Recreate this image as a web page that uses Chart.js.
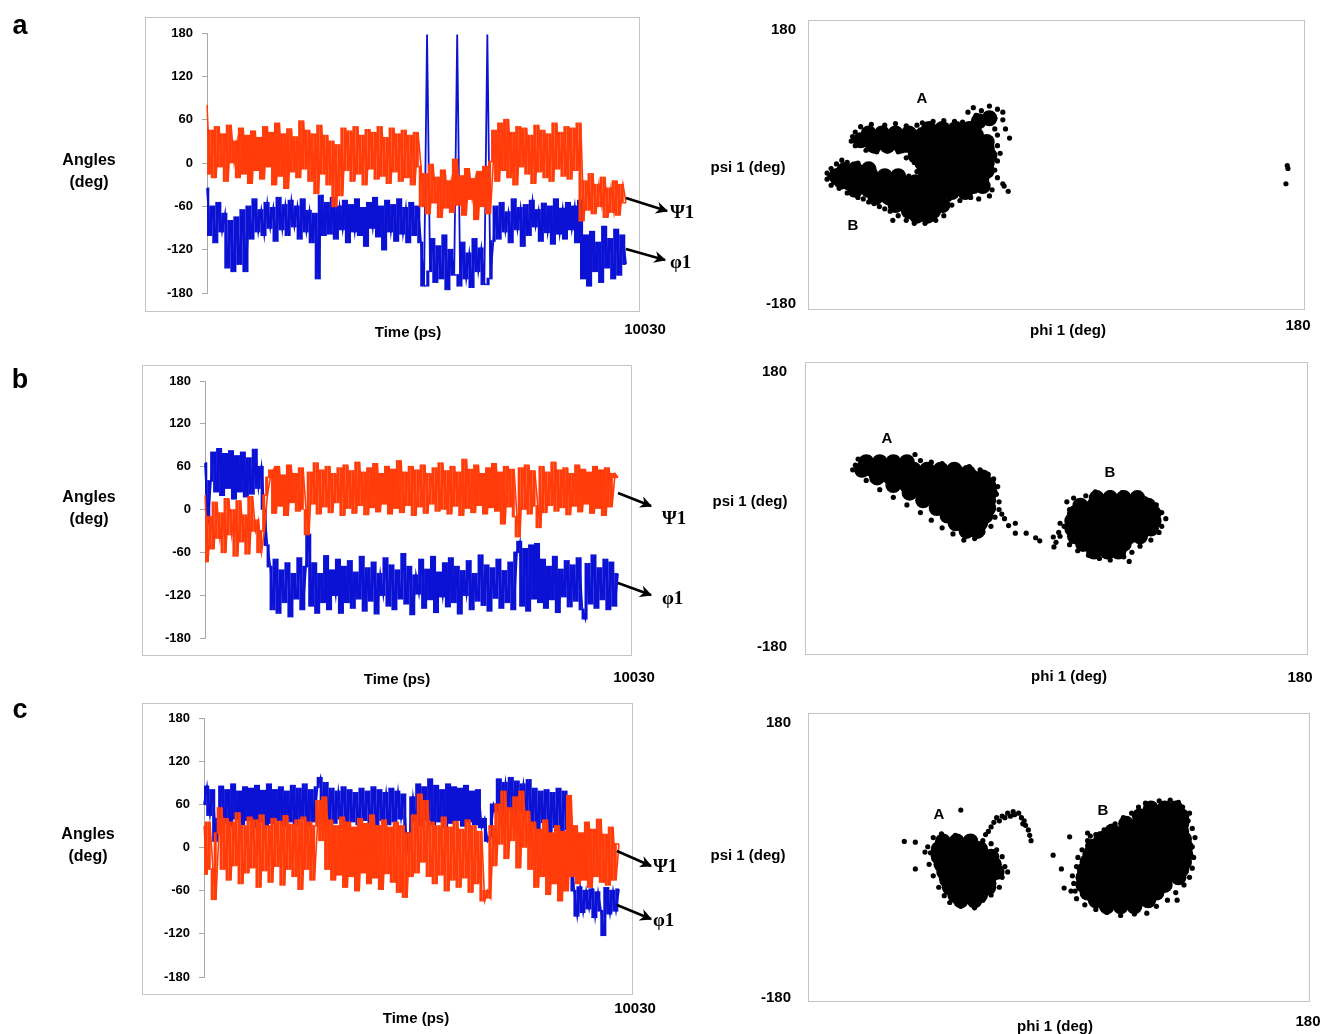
<!DOCTYPE html>
<html>
<head>
<meta charset="utf-8">
<script src="https://cdn.jsdelivr.net/npm/chart.js@4.4.1/dist/chart.umd.min.js"></script>
<style>
  body { margin: 0; background: #fff; width: 1329px; height: 1034px; position: relative; overflow: hidden;
         font-family: "Liberation Sans", Arial, sans-serif; font-weight: bold; color: #000; }
  .box { position: absolute; box-sizing: border-box; border: 1.5px solid #c4c4c4; }
  canvas { position: absolute; }
  .t { position: absolute; transform: translate(-50%, -50%); white-space: nowrap; }
  .l { position: absolute; transform: translateY(-50%); white-space: nowrap; font-family: "Liberation Serif", serif; font-size: 19px; }
  .letter { font-size: 27px; }
  .ang { font-size: 16px; line-height: 22px; text-align: center; }
  .lab { font-size: 15px; }
</style>
</head>
<body>

<!-- frames -->
<div class="box" style="left:145px;top:17px;width:495px;height:295px"></div>
<div class="box" style="left:142px;top:365px;width:490px;height:291px"></div>
<div class="box" style="left:142px;top:703px;width:491px;height:292px"></div>
<div class="box" style="left:808px;top:20px;width:497px;height:290px"></div>
<div class="box" style="left:805px;top:362px;width:503px;height:293px"></div>
<div class="box" style="left:808px;top:713px;width:502px;height:289px"></div>

<canvas id="lineA" width="495" height="305" style="left:145px;top:7px"></canvas>
<canvas id="lineB" width="490" height="301" style="left:142px;top:355px"></canvas>
<canvas id="lineC" width="491" height="302" style="left:142px;top:693px"></canvas>
<canvas id="ramA" width="589" height="345" style="left:740px;top:0px"></canvas>
<canvas id="ramB" width="589" height="353" style="left:740px;top:342px"></canvas>
<canvas id="ramC" width="589" height="341" style="left:740px;top:693px"></canvas>

<!-- arrows -->
<svg width="1329" height="1034" style="position:absolute;left:0;top:0">
  <defs>
    <marker id="ah" viewBox="0 0 10 10" refX="9" refY="5" markerWidth="12" markerHeight="12" markerUnits="userSpaceOnUse" orient="auto">
      <path d="M0,0 L10,5 L0,10 L3,5 z" fill="#000"/>
    </marker>
  </defs>
  <g stroke="#000" stroke-width="2.5" marker-end="url(#ah)">
    <line x1="626" y1="198" x2="667" y2="211"/>
    <line x1="626" y1="249" x2="665" y2="260"/>
    <line x1="618" y1="493" x2="651" y2="506"/>
    <line x1="618" y1="583" x2="651" y2="595"/>
    <line x1="617" y1="851" x2="651" y2="866"/>
    <line x1="617" y1="905" x2="651" y2="919"/>
  </g>
</svg>

<div class="t letter" style="left:20px;top:25px">a</div>
<div class="t letter" style="left:20px;top:379px">b</div>
<div class="t letter" style="left:20px;top:709px">c</div>

<div class="t ang" style="left:89px;top:171px">Angles<br>(deg)</div>
<div class="t ang" style="left:89px;top:508px">Angles<br>(deg)</div>
<div class="t ang" style="left:88px;top:845px">Angles<br>(deg)</div>

<div class="t lab" style="left:408px;top:331px">Time (ps)</div>
<div class="t lab" style="left:397px;top:678px">Time (ps)</div>
<div class="t lab" style="left:416px;top:1017px">Time (ps)</div>
<div class="t lab" style="left:645px;top:328px">10030</div>
<div class="t lab" style="left:634px;top:676px">10030</div>
<div class="t lab" style="left:635px;top:1007px">10030</div>

<div class="l" style="left:670px;top:212px">Ψ1</div>
<div class="l" style="left:670px;top:262px">φ1</div>
<div class="l" style="left:662px;top:518px">Ψ1</div>
<div class="l" style="left:662px;top:598px">φ1</div>
<div class="l" style="left:653px;top:866px">Ψ1</div>
<div class="l" style="left:653px;top:920px">φ1</div>

<div class="t lab" style="left:748px;top:166px">psi 1 (deg)</div>
<div class="t lab" style="left:750px;top:500px">psi 1 (deg)</div>
<div class="t lab" style="left:748px;top:854px">psi 1 (deg)</div>
<div class="t lab" style="left:1068px;top:329px">phi 1 (deg)</div>
<div class="t lab" style="left:1069px;top:675px">phi 1 (deg)</div>
<div class="t lab" style="left:1055px;top:1025px">phi 1 (deg)</div>

<div class="t lab" style="left:922px;top:97px">A</div>
<div class="t lab" style="left:853px;top:224px">B</div>
<div class="t lab" style="left:887px;top:437px">A</div>
<div class="t lab" style="left:1110px;top:471px">B</div>
<div class="t lab" style="left:939px;top:813px">A</div>
<div class="t lab" style="left:1103px;top:809px">B</div>

<script>
// Time axis runs 0 .. 10030 ps, 140 samples per trace
const T_MAX = 10030;
const ORANGE = '#ff3c0a';
const BLUE = '#0c12d4';
const FONT = '"Liberation Sans", Arial, sans-serif';

// panel a: psi1 and phi1 traces (deg)
const psiA = [
  80, -15, 45, -20, 50, -5, 40, -25, 52, 0,
  30, -20, 48, -15, 38, -28, 44, -10, 35, -22,
  50, -5, 42, -30, 55, -18, 40, -35, 47, -12,
  36, -20, 58, -8, 45, -25, 40, -42, 52, -15,
  38, -30, 30, -60, 25, -45, 48, -10, 44, -25,
  50, -15, 38, -30, 46, -8, 42, -22, 50, -18,
  35, -28, 48, -12, 40, -25, 45, -20, 38, -30, 42,
  -5, -60, -15, -70, -2, -55, -20, -75, -10, -62, -25, -68, 5, -58, -18, -72, -8, -50, -22, -78, -12, -60, -5, -70, 2,
  45, -25, 55, -10, 60, -20, 42, -30, 50, -5, 48, -15, 38, -28, 52, -12, 45, -20, 40, -25, 55, -8, 42, -18, 50, -22, 48, -10, 55,
  -80, -25, -65, -15, -70, -30, -60, -20, -75, -35, -68, -25, -72, -30, -55
];
const phiA = [
  -35, -100, -60, -110, -55, -95, -70, -145, -80, -150,
  -75, -140, -65, -150, -60, -105, -50, -95, -65, -100,
  -55, -90, -62, -108, -48, -92, -58, -100, -52, -88,
  -60, -105, -50, -95, -66, -110, -70, -160, -45, -100,
  -55, -98, -48, -105, -60, -92, -52, -110, -58, -95,
  -50, -100, -62, -115, -55, -90, -48, -102, -60, -120,
  -52, -95, -58, -108, -50, -98, -62, -110, -55, -100, -60,
  -110, -170, 178, -150, -105, -165, -115, -160, -100, -175, -120, -155, 178, -170, -110, -160, -125, -172, -105, -150, -118, -168, 178, -160, -108,
  -60, -105, -55, -95, -68, -110, -50, -92, -62, -115, -58, -100, -52, -88, -65, -108, -56, -96, -60, -112, -50, -98, -63, -105, -55, -92, -60, -110, -52,
  -160, -100, -170, -95, -150, -110, -165, -88, -145, -105, -160, -92, -155, -100, -140
];

// panel b
const psiB = [
  20, -73, -10, -55, 10, -40, -5, -60, 15, -35, 0, -65, 12, -45, -8, -62, 18, -30, -15, -60,
  -30, 20, 45,
  55, -5, 60, 5, 48, -8, 62, 10, 50, -2,
  58, 0, -35, 52, 8, 65, -6, 55, 4, 60,
  -4, 50, 10, 58, -8, 62, 2, 54, -5, 66,
  6, 52, -7, 58, 3, 64, -3, 50, 8, 60,
  -6, 56, 2, 68, -4, 52, 6, 60, -8, 55,
  4, 62, -5, 50, 8, 58, -2, 65, 0, 54,
  -6, 60, 5, 52, -8, 70, 2, 56, -4, 62,
  6, 50, -6, 58, 3, 64, -2, 52, -20, 60,
  4, 56, -10, -38, 58, 0, 62, -6, 54, 5,
  -25, 60, -4, 52, 6, 66, -2, 55, 3, 58,
  -7, 50, 5, 62, -3, 56, 8, 52, -5, 60,
  2, 55, -8, 58, 4, 50, 45
];
const phiB = [
  65, -20, 40, 80, 25, 85, 20, 78, 30, 82, 15, 75, 25, 80, 18, 72, 22, 84, 30, 60,
  0, -50, -80,
  -140, -70, -145, -85, -130, -75, -150, -90, -125, -68,
  -140, -80, -35, -135, -75, -145, -90, -130, -65, -140,
  -85, -120, -70, -145, -80, -130, -72, -138, -88, -125,
  -66, -142, -82, -128, -74, -146, -90, -120, -68, -135,
  -78, -140, -85, -125, -62, -132, -80, -147, -92, -118,
  -70, -138, -84, -126, -66, -144, -88, -122, -75, -136,
  -68, -130, -80, -146, -86, -120, -72, -140, -90, -128,
  -64, -134, -78, -142, -82, -124, -70, -138, -86, -130,
  -74, -140, -60, -45, -135, -55, -142, -50, -125, -48,
  -130, -70, -138, -80, -126, -66, -144, -84, -122, -72,
  -136, -78, -128, -68, -140, -153, -76, -132, -64, -138,
  -82, -126, -70, -140, -74, -135, -90
];

// panel c
const psiC = [
  30, -37, 35, -30, -72, 20,
  55, -30, 40, -45, 35, -25, 48, -50, 30, -35, 42, -28, 38, -55, 45, -32, 30, -48, 40, -26, 36, -52, 44, -30, 32, -40, 38, -58, 42, -30, 35, -45, 30,
  65, 10, 70,
  -30, 38, -45, 30, -38, 42, -55, 35, -40, 28, -60, 40, -35, 33, -50, 45, -42, 30, -58, 38, -36, 28, -48, 35, -62, 30,
  -69, 20, -40,
  45, -35, 74, -20, 65, -40, 35, -50, 30, -38, 42, -60, 28, -45, 36, -55, 25, -42, 38, -62, 30, -50, 22,
  -74, -60, -70, 30,
  -25, 60, 5, 78, -15, 55, 10, 70, -28, 78, 0, 50,
  -30, 35, -55, 25, -40, 38, -65, 20, -50, 30, -74, 22, -60,
  72, -40,
  30, -50, 20, -45, 35, -55, 25, -40, 39, -48, 18, -52, 28, -45, 5
];
const phiC = [
  60, 85, 45, 80, 9, 40,
  85, 35, 80, 30, 88, 40, 78, 32, 84, 38, 82, 28, 86, 36, 79, 30, 88, 34, 80, 38, 84, 30, 78, 36, 86, 32, 82, 40, 88, 30, 80, 36, 84,
  97, 40, 90,
  38, 82, 34, 78, 40, 84, 30, 80, 36, 76, 32, 82, 38, 78, 34, 84, 30, 80, 38, 76, 32, 82, 36, 78, 40, 74,
  -5, 20, 70,
  36, 88, 30, 84, 38, 95, 32, 86, 36, 80, 28, 88, 34, 84, 38, 82, 30, 86, 36, 78, 32, 80, 28,
  40, 9, 15, 60,
  50, 95, 45, 90, 55, 97, 42, 92, 48, 88, 52, 94,
  30, 82, 22, 78, 35, 80, 18, 76, 28, 82, 20, 78, 25,
  10, -60,
  -95, -55, -90, -60, -85, -58, -97, -62, -88, -122, -56, -92, -60, -88, -58
];

// Ramachandran scatter points [phi, psi]; "core" = dense interior, "edge" = sparse dots
const ramACore = [
  [-140,44],[-130,44],[-120,44],[-110,44],
  [-146,35],[-140,35],[-130,35],[-120,35],[-110,35],[-102,38],
  [-136,28],[-126,28],[-116,28],[-108,28],
  [-95,50],[-85,50],[-75,50],[-65,50],
  [-100,42],[-90,42],[-80,42],[-70,42],[-60,42],
  [-98,33],[-88,33],[-78,33],[-68,33],[-58,33],[-52,33],
  [-100,24],[-90,24],[-80,24],[-70,24],[-60,24],[-52,24],
  [-105,15],[-95,15],[-85,15],[-75,15],[-65,15],[-55,15],[-50,15],
  [-100,5],[-90,5],[-80,5],[-70,5],[-60,5],[-52,5],
  [-98,-5],[-88,-5],[-78,-5],[-68,-5],[-58,-5],[-52,-5],
  [-95,-15],[-85,-15],[-75,-15],[-65,-15],[-56,-15],
  [-92,-25],[-82,-25],[-72,-25],[-62,-25],[-55,-25],
  [-88,-33],[-78,-33],[-68,-33],
  [-58,60],[-50,64],
  [-158,-4],[-150,-3],[-140,-3],
  [-164,-12],[-158,-12],[-148,-12],[-138,-12],[-128,-12],[-118,-12],
  [-160,-19],[-155,-20],[-145,-20],[-135,-20],[-125,-20],[-115,-20],[-105,-20],
  [-150,-30],[-140,-30],[-130,-30],[-120,-30],[-110,-30],[-100,-30],
  [-135,-40],[-125,-40],[-115,-40],[-105,-40],[-95,-40],[-88,-40],
  [-120,-50],[-110,-50],[-100,-50],[-92,-50],[-85,-50],
  [-110,-58],[-100,-58],[-92,-58],
  [-104,-64],[-96,-64]
];
const ramAEdge = [
  [-152,40],[-153,34],[-150,46],[-146,53],[-138,56],[-128,55],[-120,57],[-112,54],[-104,55],
  [-150,28],[-142,22],[-134,20],[-126,21],[-118,20],[-112,22],
  [-100,58],[-92,60],[-84,61],[-76,60],[-70,59],
  [-66,72],[-62,78],[-56,74],[-50,80],[-44,76],[-40,72],[-60,68],[-52,70],[-46,64],[-40,62],[-38,50],[-35,38],[-44,42],[-46,50],
  [-44,28],[-42,18],[-44,8],[-46,-4],[-44,-14],[-40,-22],[-39,-25],[-36,-32],[-48,-30],[-50,-38],[-58,-42],[-64,-40],[-72,-44],
  [-80,-42],[-86,-46],[-94,-52],[-84,-56],[-78,-50],[-108,22],[-112,12],[-106,6],[-104,-6],[-110,-12],
  [-171,-8],[-171,-16],[-168,-24],[-162,-28],[-156,-34],[-148,-40],[-140,-46],[-132,-52],[-124,-58],[-118,-64],[-112,-70],
  [-106,-74],[-98,-74],[-90,-70],[-122,-70],[-164,4],[-156,6],[-148,5],[-160,9],[-84,-64],
  [-168,-2],[-169,-12],[-166,-20],[-163,-4],[-152,-36],[-144,-42],[-136,-48],[-128,-55],
  [172,2],[172.5,-2],[171,-22]
];

const ramBCore = [
  [-140,62],[-130,62],[-120,62],[-110,62],
  [-143,52],[-135,52],[-125,52],[-115,52],[-105,52],[-95,52],[-85,52],[-75,52],[-65,48],
  [-132,42],[-122,42],[-112,42],[-102,42],[-92,42],[-82,42],[-72,42],[-62,42],[-54,42],
  [-120,32],[-110,32],[-100,32],[-90,32],[-80,32],[-70,32],[-60,32],[-50,32],
  [-108,22],[-98,22],[-88,22],[-78,22],[-68,22],[-58,22],[-49,22],
  [-98,12],[-88,12],[-78,12],[-68,12],[-58,12],[-50,12],
  [-88,2],[-78,2],[-68,2],[-58,2],[-50,2],
  [-80,-8],[-70,-8],[-60,-8],[-52,-8],
  [-74,-18],[-64,-18],[-56,-18],
  [-66,-28],[-58,-28],
  [30,15],[40,15],[50,15],[60,15],
  [18,5],[28,5],[38,5],[48,5],[58,5],[68,5],
  [14,-5],[24,-5],[34,-5],[44,-5],[54,-5],[64,-5],[72,-5],
  [12,-15],[22,-15],[32,-15],[42,-15],[52,-15],[62,-15],[72,-15],
  [12,-25],[22,-25],[32,-25],[42,-25],[52,-25],[62,-25],[70,-25],
  [14,-35],[24,-35],[34,-35],[44,-35],[54,-35],[62,-35],
  [20,-45],[30,-45],[40,-45],[50,-45],
  [28,-55],[38,-55],[46,-55]
];
const ramBEdge = [
  [-150,52],[-148,58],[-146,66],[-138,68],[-128,67],[-118,68],[-104,72],[-100,64],[-92,62],[-84,60],[-74,58],[-64,56],
  [-56,52],[-50,46],[-46,40],[-43,30],[-44,20],[-42,10],[-42,0],[-45,-10],[-48,-22],[-54,-30],[-60,-38],[-68,-40],
  [-76,-32],[-84,-24],[-92,-14],[-100,-4],[-110,6],[-120,16],[-130,26],[-140,38],[-145,46],
  [-38,-12],[-35,-21],[-30,-18],[-30,-31],[-22,-31],[-15,-37],[-12,-41],[-40,-6],
  [2,-30],[-2,-36],[0,-43],[-1.5,-49],[3,-35],[6,-22],[13,15],[8,10],[10,0],[22,18],[29,23],[40,22],[49,22],[58,20],
  [66,14],[74,6],[78,-4],[81,-12],[78,-22],[76,-30],[70,-40],[62,-48],[56,-56],[50,-62],[40,-66],[32,-64],[24,-60],
  [16,-54],[10,-46],[54,-68],[3,-18]
];

const ramCCore = [
  [-85,25],[-75,25],[-65,25],
  [-88,15],[-78,15],[-68,15],[-58,15],
  [-88,5],[-78,5],[-68,5],[-58,5],[-50,5],
  [-86,-5],[-76,-5],[-66,-5],[-56,-5],[-48,-5],
  [-84,-15],[-74,-15],[-64,-15],[-54,-15],[-46,-15],
  [-82,-25],[-72,-25],[-62,-25],[-52,-25],
  [-80,-35],[-70,-35],[-60,-35],[-52,-35],
  [-76,-45],[-66,-45],[-58,-45],
  [-72,-52],[-62,-52],
  [66,68],[76,68],[84,68],
  [58,58],[68,58],[78,58],[88,58],
  [48,48],[58,48],[68,48],[78,48],[88,48],
  [38,38],[48,38],[58,38],[68,38],[78,38],[88,38],
  [30,28],[40,28],[50,28],[60,28],[70,28],[80,28],[90,28],
  [24,18],[34,18],[44,18],[54,18],[64,18],[74,18],[84,18],[91,18],
  [22,8],[32,8],[42,8],[52,8],[62,8],[72,8],[82,8],[91,8],
  [20,-2],[30,-2],[40,-2],[50,-2],[60,-2],[70,-2],[80,-2],[90,-2],
  [18,-12],[28,-12],[38,-12],[48,-12],[58,-12],[68,-12],[78,-12],[88,-12],
  [17,-22],[27,-22],[37,-22],[47,-22],[57,-22],[67,-22],[77,-22],[86,-22],
  [17,-32],[27,-32],[37,-32],[47,-32],[57,-32],[67,-32],[76,-32],
  [20,-42],[30,-42],[40,-42],[50,-42],[60,-42],[70,-42],
  [26,-52],[36,-52],[46,-52],[56,-52],[64,-52],
  [34,-60],[44,-60],[54,-60]
];
const ramCEdge = [
  [-92,30],[-90,20],[-94,10],[-95,-5],[-92,-20],[-88,-35],[-84,-46],[-80,-55],[-72,-60],[-64,-58],[-56,-52],[-50,-45],
  [-44,-35],[-42,-22],[-40,-8],[-42,5],[-46,14],[-50,22],[-56,26],[-66,30],[-76,33],[-86,35],[-38,-15],[-48,-30],[-96,18],[-62,-62],
  [-113,25],[-105,24],[-105,-11],[-98,11],[-72,66],
  [-52,38],[-50,44],[-48,50],[-46,56],[-42,58],[-38,62],[-36,58],[-33,60],[-30,62],[-28,56],[-26,52],[-25,46],[-23,40],
  [-22,33],[-21,26],[-44,52],[-40,56],[-34,64],[-54,34],[-27,48],
  [10,-30],[8,-40],[12,-50],[18,-58],[26,-64],[34,-68],[44,-72],[54,-70],[63,-69],[70,-60],[78,-52],[85,-52],[84,-42],
  [90,-32],[94,-22],[96,-10],[97,4],[96,18],[98,30],[96,42],[93,52],[94,62],[89,70],[86,76],[80,79],[72,78],[62,75],
  [57,70],[52,62],[46,56],[40,48],[32,40],[26,34],[20,26],[16,14],[13,4],[12,-8],[9,-20],[22,32],[11,-40],
  [-5,7],[7,31],[20,36],[1,-11],[3,-36]
];

Chart.defaults.font.family = FONT;
Chart.defaults.font.weight = 'bold';
Chart.defaults.color = '#000';

// vertical range swept between neighbouring samples (the dense trace band);
// wrap-around spikes at +180 are left to the thin line
function sweep(vals) {
  const clean = vals.map((v, i) => (v > 150 && i > 0) ? vals[i - 1] : v);
  return clean.map((v, i) => {
    const n = clean[Math.min(i + 1, clean.length - 1)];
    return [Math.min(v, n), Math.max(v, n)];
  });
}

function timeChart(id, psi, phi, pad) {
  const labels = psi.map((_, i) => Math.round(i * T_MAX / (psi.length - 1)));
  const bar = { type: 'bar', barPercentage: 1, categoryPercentage: 1, borderWidth: 0, inflateAmount: 0.8 };
  new Chart(document.getElementById(id), {
    type: 'bar',
    data: {
      labels: labels,
      datasets: [
        { type: 'line', label: 'psi 1', data: psi, borderColor: ORANGE, borderWidth: 1.6, pointRadius: 0, tension: 0, order: 0 },
        Object.assign({ label: 'psi 1 band', data: sweep(psi), backgroundColor: ORANGE, order: 1 }, bar),
        { type: 'line', label: 'phi 1', data: phi, borderColor: BLUE, borderWidth: 1.8, pointRadius: 0, tension: 0, order: 2 },
        Object.assign({ label: 'phi 1 band', data: sweep(phi), backgroundColor: BLUE, order: 3 }, bar)
      ]
    },
    options: {
      responsive: false,
      animation: false,
      devicePixelRatio: 1,
      events: [],
      layout: { padding: { left: 0, top: pad.top, right: pad.right, bottom: pad.bottom } },
      plugins: { legend: { display: false }, tooltip: { enabled: false } },
      scales: {
        x: { display: false, offset: false },
        y: {
          min: -180, max: 180,
          afterFit: (s) => { s.width = pad.axis; },
          ticks: { stepSize: 60, padding: 9, font: { size: 13, weight: 'bold' }, color: '#000' },
          grid: { drawOnChartArea: false, tickLength: 5, color: '#a8a8a8' },
          border: { color: '#a8a8a8', width: 1 }
        }
      }
    }
  });
}

function ramaChart(id, core, edge, cfg) {
  const toXY = (arr) => arr.map(p => ({ x: p[0], y: p[1] }));
  new Chart(document.getElementById(id), {
    type: 'scatter',
    data: {
      datasets: [
        { data: toXY(core), pointRadius: 8, pointBackgroundColor: '#000', pointBorderWidth: 0 },
        { data: toXY(edge), pointRadius: 2.6, pointBackgroundColor: '#000', pointBorderWidth: 0 }
      ]
    },
    options: {
      responsive: false,
      animation: false,
      devicePixelRatio: 1,
      events: [],
      layout: { padding: { left: 0, top: cfg.top, right: cfg.right, bottom: 0 } },
      plugins: { legend: { display: false }, tooltip: { enabled: false } },
      scales: {
        x: {
          type: 'linear', min: -180, max: 180,
          afterBuildTicks: (s) => { s.ticks = [{ value: 180 }]; },
          afterFit: (s) => { s.height = cfg.xh; },
          grid: { display: false }, border: { display: false },
          ticks: { padding: cfg.xpad, maxRotation: 0, autoSkip: false, font: { size: 15, weight: 'bold' } }
        },
        y: {
          type: 'linear', min: -180, max: 180,
          afterBuildTicks: (s) => { s.ticks = [{ value: -180 }, { value: 180 }]; },
          afterFit: (s) => { s.width = cfg.yw; },
          grid: { display: false }, border: { display: false },
          ticks: { padding: cfg.ypad, autoSkip: false, font: { size: 15, weight: 'bold' } }
        }
      }
    }
  });
}

timeChart('lineA', psiA, phiA, { axis: 62, top: 26, bottom: 19, right: 14 });
timeChart('lineB', psiB, phiB, { axis: 63, top: 26, bottom: 18, right: 14 });
timeChart('lineC', psiC, phiC, { axis: 62, top: 25, bottom: 18, right: 14 });

ramaChart('ramA', ramACore, ramAEdge, { yw: 75, top: 30, right: 31, xh: 41, xpad: 5, ypad: 11 });
ramaChart('ramB', ramBCore, ramBEdge, { yw: 72, top: 30, right: 29, xh: 48, xpad: 14, ypad: 17 });
ramaChart('ramC', ramCCore, ramCEdge, { yw: 72, top: 30, right: 21, xh: 36, xpad: 7, ypad: 13 });
</script>
</body>
</html>
